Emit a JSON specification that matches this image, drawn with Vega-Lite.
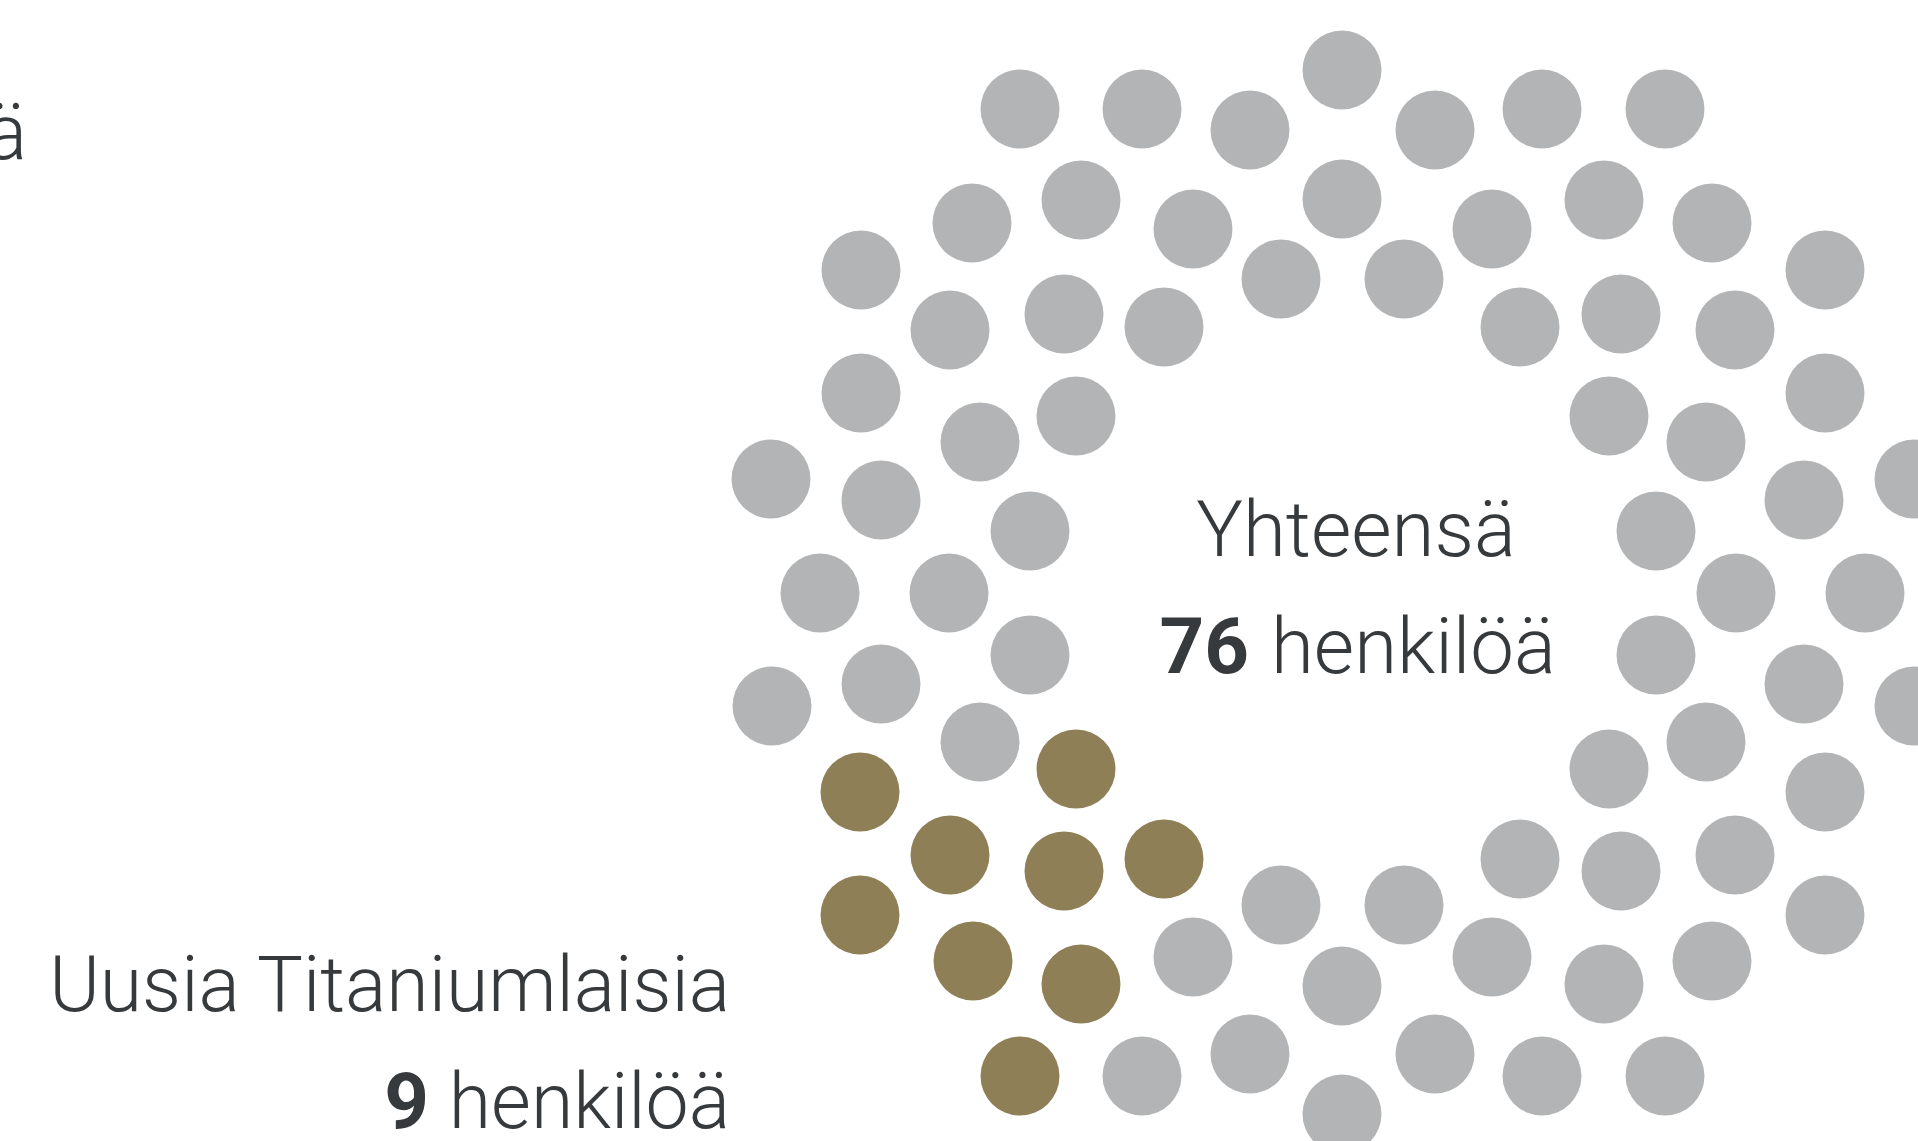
{
  "$schema": "https://vega.github.io/schema/vega-lite/v6.json",
  "width": 1918,
  "height": 1141,
  "autosize": {"type": "fit", "contains": "padding"},
  "padding": 0,
  "background": "#ffffff",
  "config": {"view": {"stroke": null}},
  "datasets": {
    "dots": [
      {"x": 1020, "y": 109, "g": "muut"}, {"x": 1142, "y": 109, "g": "muut"}, {"x": 1250, "y": 130, "g": "muut"}, {"x": 1342, "y": 70, "g": "muut"}, {"x": 1435, "y": 130, "g": "muut"}, {"x": 1542, "y": 109, "g": "muut"}, {"x": 1665, "y": 109, "g": "muut"},
      {"x": 972, "y": 223, "g": "muut"}, {"x": 1081, "y": 200, "g": "muut"}, {"x": 1193, "y": 229, "g": "muut"}, {"x": 1342, "y": 199, "g": "muut"}, {"x": 1492, "y": 229, "g": "muut"}, {"x": 1604, "y": 200, "g": "muut"}, {"x": 1712, "y": 223, "g": "muut"},
      {"x": 861, "y": 270, "g": "muut"}, {"x": 950, "y": 330, "g": "muut"}, {"x": 1064, "y": 314, "g": "muut"}, {"x": 1164, "y": 327, "g": "muut"}, {"x": 1281, "y": 279, "g": "muut"}, {"x": 1404, "y": 279, "g": "muut"}, {"x": 1520, "y": 327, "g": "muut"}, {"x": 1621, "y": 314, "g": "muut"}, {"x": 1735, "y": 330, "g": "muut"}, {"x": 1825, "y": 270, "g": "muut"},
      {"x": 861, "y": 393, "g": "muut"}, {"x": 980, "y": 442, "g": "muut"}, {"x": 1076, "y": 416, "g": "muut"}, {"x": 1609, "y": 416, "g": "muut"}, {"x": 1706, "y": 442, "g": "muut"}, {"x": 1825, "y": 393, "g": "muut"},
      {"x": 771, "y": 479, "g": "muut"}, {"x": 881, "y": 500, "g": "muut"}, {"x": 1030, "y": 531, "g": "muut"}, {"x": 1656, "y": 531, "g": "muut"}, {"x": 1804, "y": 500, "g": "muut"}, {"x": 1914, "y": 479, "g": "muut"},
      {"x": 820, "y": 593, "g": "muut"}, {"x": 949, "y": 593, "g": "muut"}, {"x": 1736, "y": 593, "g": "muut"}, {"x": 1865, "y": 593, "g": "muut"},
      {"x": 772, "y": 706, "g": "muut"}, {"x": 881, "y": 684, "g": "muut"}, {"x": 1030, "y": 655, "g": "muut"}, {"x": 1656, "y": 655, "g": "muut"}, {"x": 1804, "y": 684, "g": "muut"}, {"x": 1914, "y": 706, "g": "muut"},
      {"x": 980, "y": 742, "g": "muut"}, {"x": 1076, "y": 769, "g": "uusi"}, {"x": 860, "y": 792, "g": "uusi"}, {"x": 1609, "y": 769, "g": "muut"}, {"x": 1706, "y": 742, "g": "muut"}, {"x": 1825, "y": 792, "g": "muut"},
      {"x": 950, "y": 855, "g": "uusi"}, {"x": 1064, "y": 871, "g": "uusi"}, {"x": 1164, "y": 859, "g": "uusi"}, {"x": 1281, "y": 905, "g": "muut"}, {"x": 1404, "y": 905, "g": "muut"}, {"x": 1520, "y": 859, "g": "muut"}, {"x": 1621, "y": 871, "g": "muut"}, {"x": 1735, "y": 855, "g": "muut"},
      {"x": 860, "y": 915, "g": "uusi"}, {"x": 1825, "y": 915, "g": "muut"},
      {"x": 973, "y": 961, "g": "uusi"}, {"x": 1081, "y": 984, "g": "uusi"}, {"x": 1193, "y": 957, "g": "muut"}, {"x": 1342, "y": 986, "g": "muut"}, {"x": 1492, "y": 957, "g": "muut"}, {"x": 1604, "y": 984, "g": "muut"}, {"x": 1712, "y": 961, "g": "muut"},
      {"x": 1020, "y": 1076, "g": "uusi"}, {"x": 1142, "y": 1076, "g": "muut"}, {"x": 1250, "y": 1054, "g": "muut"}, {"x": 1342, "y": 1114, "g": "muut"}, {"x": 1435, "y": 1054, "g": "muut"}, {"x": 1542, "y": 1076, "g": "muut"}, {"x": 1665, "y": 1076, "g": "muut"}
    ],
    "centerText": [
      {"x": 1356, "y": 556, "t": "Yhteensä"}
    ],
    "rightText": [
      {"x": 730, "y": 1011, "t": "Uusia Titaniumlaisia"},
      {"x": 730, "y": 1128, "t": "henkilöä"},
      {"x": 27, "y": 159, "t": "henkilöä"}
    ],
    "leftText": [
      {"x": 1271, "y": 673, "t": "henkilöä"}
    ],
    "boldText": [
      {"x": 1249, "y": 673, "t": "76"},
      {"x": 429, "y": 1128, "t": "9"}
    ]
  },
  "encoding": {
    "x": {"field": "x", "type": "quantitative", "scale": {"domain": [0, 1918], "nice": false, "zero": false}, "axis": null},
    "y": {"field": "y", "type": "quantitative", "scale": {"domain": [0, 1141], "nice": false, "zero": false, "reverse": true}, "axis": null}
  },
  "layer": [
    {
      "data": {"name": "dots"},
      "mark": {"type": "circle", "size": 6241, "opacity": 1, "clip": true},
      "encoding": {
        "color": {"field": "g", "type": "nominal", "scale": {"domain": ["uusi", "muut"], "range": ["#8e7f57", "#b3b4b5"]}, "legend": null}
      }
    },
    {
      "data": {"name": "centerText"},
      "mark": {"type": "text", "align": "center", "baseline": "alphabetic", "font": "Roboto", "fontWeight": 300, "fontSize": 78, "color": "#373a3c", "clip": true},
      "encoding": {"text": {"field": "t"}}
    },
    {
      "data": {"name": "rightText"},
      "mark": {"type": "text", "align": "right", "baseline": "alphabetic", "font": "Roboto", "fontWeight": 300, "fontSize": 77, "color": "#373a3c", "clip": true},
      "encoding": {"text": {"field": "t"}}
    },
    {
      "data": {"name": "leftText"},
      "mark": {"type": "text", "align": "left", "baseline": "alphabetic", "font": "Roboto", "fontWeight": 300, "fontSize": 78, "color": "#373a3c", "clip": true},
      "encoding": {"text": {"field": "t"}}
    },
    {
      "data": {"name": "boldText"},
      "mark": {"type": "text", "align": "right", "baseline": "alphabetic", "font": "Roboto", "fontWeight": "bold", "fontSize": 78, "color": "#373a3c", "clip": true},
      "encoding": {"text": {"field": "t"}}
    }
  ]
}
